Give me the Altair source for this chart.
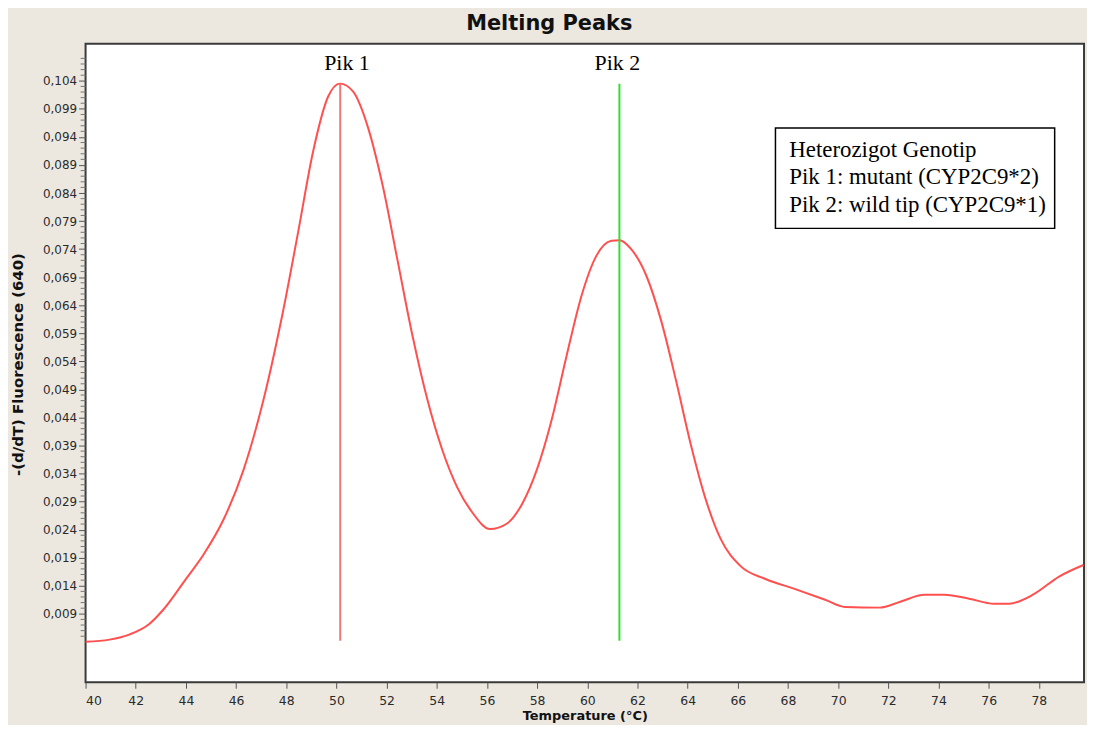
import altair as alt
import pandas as pd

# ---- data ----
temps = [40.0, 40.95, 41.74, 42.54, 43.13, 43.92, 44.71, 45.5, 46.3, 47.09,
         47.88, 48.48, 49.07, 49.67, 50.14, 50.66, 51.25, 51.85, 52.44, 53.03,
         53.63, 54.22, 54.82, 55.41, 56.12, 56.8, 57.39, 57.99, 58.58, 59.18,
         59.77, 60.36, 60.96, 61.28, 61.75, 62.35, 62.94, 63.53, 64.13, 64.72,
         65.32, 66.11, 67.1, 68.29, 69.48, 70.27, 71.66, 72.45, 73.44, 74.23,
         75.22, 76.21, 76.81, 77.8, 78.79, 79.78]
fluor = [0.0040, 0.0044, 0.0053, 0.0072, 0.0099, 0.0147, 0.0196, 0.0258, 0.0347, 0.0471,
         0.0631, 0.0772, 0.0914, 0.1012, 0.1035, 0.1021, 0.0958, 0.0852, 0.0719, 0.0586,
         0.0471, 0.0382, 0.0315, 0.0271, 0.0241, 0.0251, 0.0285, 0.0347, 0.0436, 0.0551,
         0.0657, 0.0728, 0.0755, 0.0756, 0.0740, 0.0693, 0.0613, 0.0507, 0.0391, 0.0294,
         0.0223, 0.0175, 0.0152, 0.0134, 0.0115, 0.0102, 0.0101, 0.0111, 0.0124, 0.0124,
         0.0117, 0.0108, 0.0108, 0.0125, 0.0156, 0.0177]

peak_names = ["Pik 1", "Pik 2"]
peak_temps = [50.15, 61.28]
peak_top = [0.1035, 0.1035]
peak_bottom = [0.0042, 0.0042]
peak_colors = ["#f07878", "#33dd33"]
label_x = [50.42, 61.2]
label_y = [0.1071, 0.1071]

x_ticks = list(range(40, 80, 2))
y_ticks = [0.009, 0.014, 0.019, 0.024, 0.029, 0.034, 0.039, 0.044, 0.049, 0.054,
           0.059, 0.064, 0.069, 0.074, 0.079, 0.084, 0.089, 0.094, 0.099, 0.104]
y_minor = [round(t + k * 0.001, 4) for t in [0.004] + y_ticks for k in range(1, 5)]

box_lines = ["Heterozigot Genotip", "Pik 1: mutant (CYP2C9*2)", "Pik 2: wild tip (CYP2C9*1)"]
box_line_y = [0.0917, 0.0868, 0.0819]
box_x = [67.5, 78.63]
box_y = [0.0956, 0.0777]

x_dom = [40, 79.8]
y_dom = [-0.0032, 0.1106]

curve_df = pd.DataFrame({"t": temps, "f": fluor})
peaks_df = pd.DataFrame({"name": peak_names, "t": peak_temps, "top": peak_top,
                         "bottom": peak_bottom, "color": peak_colors,
                         "lx": label_x, "ly": label_y})
box_df = pd.DataFrame({"x1": [box_x[0]], "x2": [box_x[1]], "y1": [box_y[0]], "y2": [box_y[1]]})
text_df = pd.DataFrame({"txt": box_lines, "y": box_line_y, "x": [box_x[0] + 0.55] * 3})
minor_df = pd.DataFrame({"v": y_minor})

xs = alt.Scale(domain=x_dom, nice=False, zero=False)
ys = alt.Scale(domain=y_dom, nice=False, zero=False)

x_axis = alt.Axis(values=x_ticks, format="d", grid=False, domain=False, tickSize=6,
                  tickColor="#555555", labelPadding=6, labelFont="DejaVu Sans",
                  labelFontSize=12.5, labelColor="#2a2a2a", labelOverlap=False,
                  title="Temperature (°C)",
                  titleFont="DejaVu Sans", titleFontSize=13, titleFontWeight="bold",
                  titleColor="#111111", titleBaseline="top", titleY=27)
y_axis = alt.Axis(values=y_ticks, labelExpr="replace(format(datum.value, '.3f'), '.', ',')",
                  grid=False, domain=False, tickSize=7, tickColor="#555555", labelPadding=2,
                  labelOverlap=False, labelFont="DejaVu Sans", labelFontSize=12,
                  labelColor="#2a2a2a",
                  title="-(d/dT) Fluorescence (640)", titleFont="DejaVu Sans",
                  titleFontSize=15, titleFontWeight="bold", titleColor="#111111",
                  titleX=-68, titleY=322, titleBaseline="middle", titleAlign="center")


def X(field):
    return alt.X(field, type="quantitative", scale=xs, axis=x_axis)


def Y(field):
    return alt.Y(field, type="quantitative", scale=ys, axis=y_axis)


curve = alt.Chart(curve_df).mark_line(color="#ff5050", strokeWidth=2, interpolate="monotone").encode(
    x=X("t"), y=Y("f"),
)

minor = alt.Chart(minor_df).mark_rule(color="#777777", strokeWidth=1).encode(
    x=alt.value(-5), x2=alt.value(0), y=Y("v")
)

peak_rules = alt.Chart(peaks_df).mark_rule(strokeWidth=2).encode(
    x=X("t"), y=Y("top"), y2="bottom:Q",
    color=alt.Color("color:N", scale=None),
)

peak_labels = alt.Chart(peaks_df).mark_text(font="Liberation Serif", fontSize=22, color="#000000",
                                            baseline="middle", align="center").encode(
    x=X("lx"), y=Y("ly"), text="name:N"
)

box = alt.Chart(box_df).mark_rect(fill="white", stroke="#000000", strokeWidth=1.5).encode(
    x=X("x1"), x2="x2:Q", y=Y("y1"), y2="y2:Q"
)

box_text = alt.Chart(text_df).mark_text(font="Liberation Serif", fontSize=23, color="#000000",
                                        align="left", baseline="middle").encode(
    x=X("x"), y=Y("y"), text="txt:N"
)

chart = alt.layer(curve, minor, peak_rules, peak_labels, box, box_text).properties(
    width=1004, height=642,
    autosize=alt.AutoSizeParams(type="none"),
    padding={"left": 78, "top": 34, "right": 3, "bottom": 41},
    background="#ece8e0",
    title=alt.TitleParams("Melting Peaks", font="DejaVu Sans", fontSize=21, fontWeight="bold",
                          color="#111111", anchor="middle", frame="bounds", baseline="bottom",
                          offset=-11),
).configure_view(fill="white", stroke="#3a3a3a", strokeWidth=2)

chart.save("out.html", embed_options={"renderer": "svg", "actions": False})
